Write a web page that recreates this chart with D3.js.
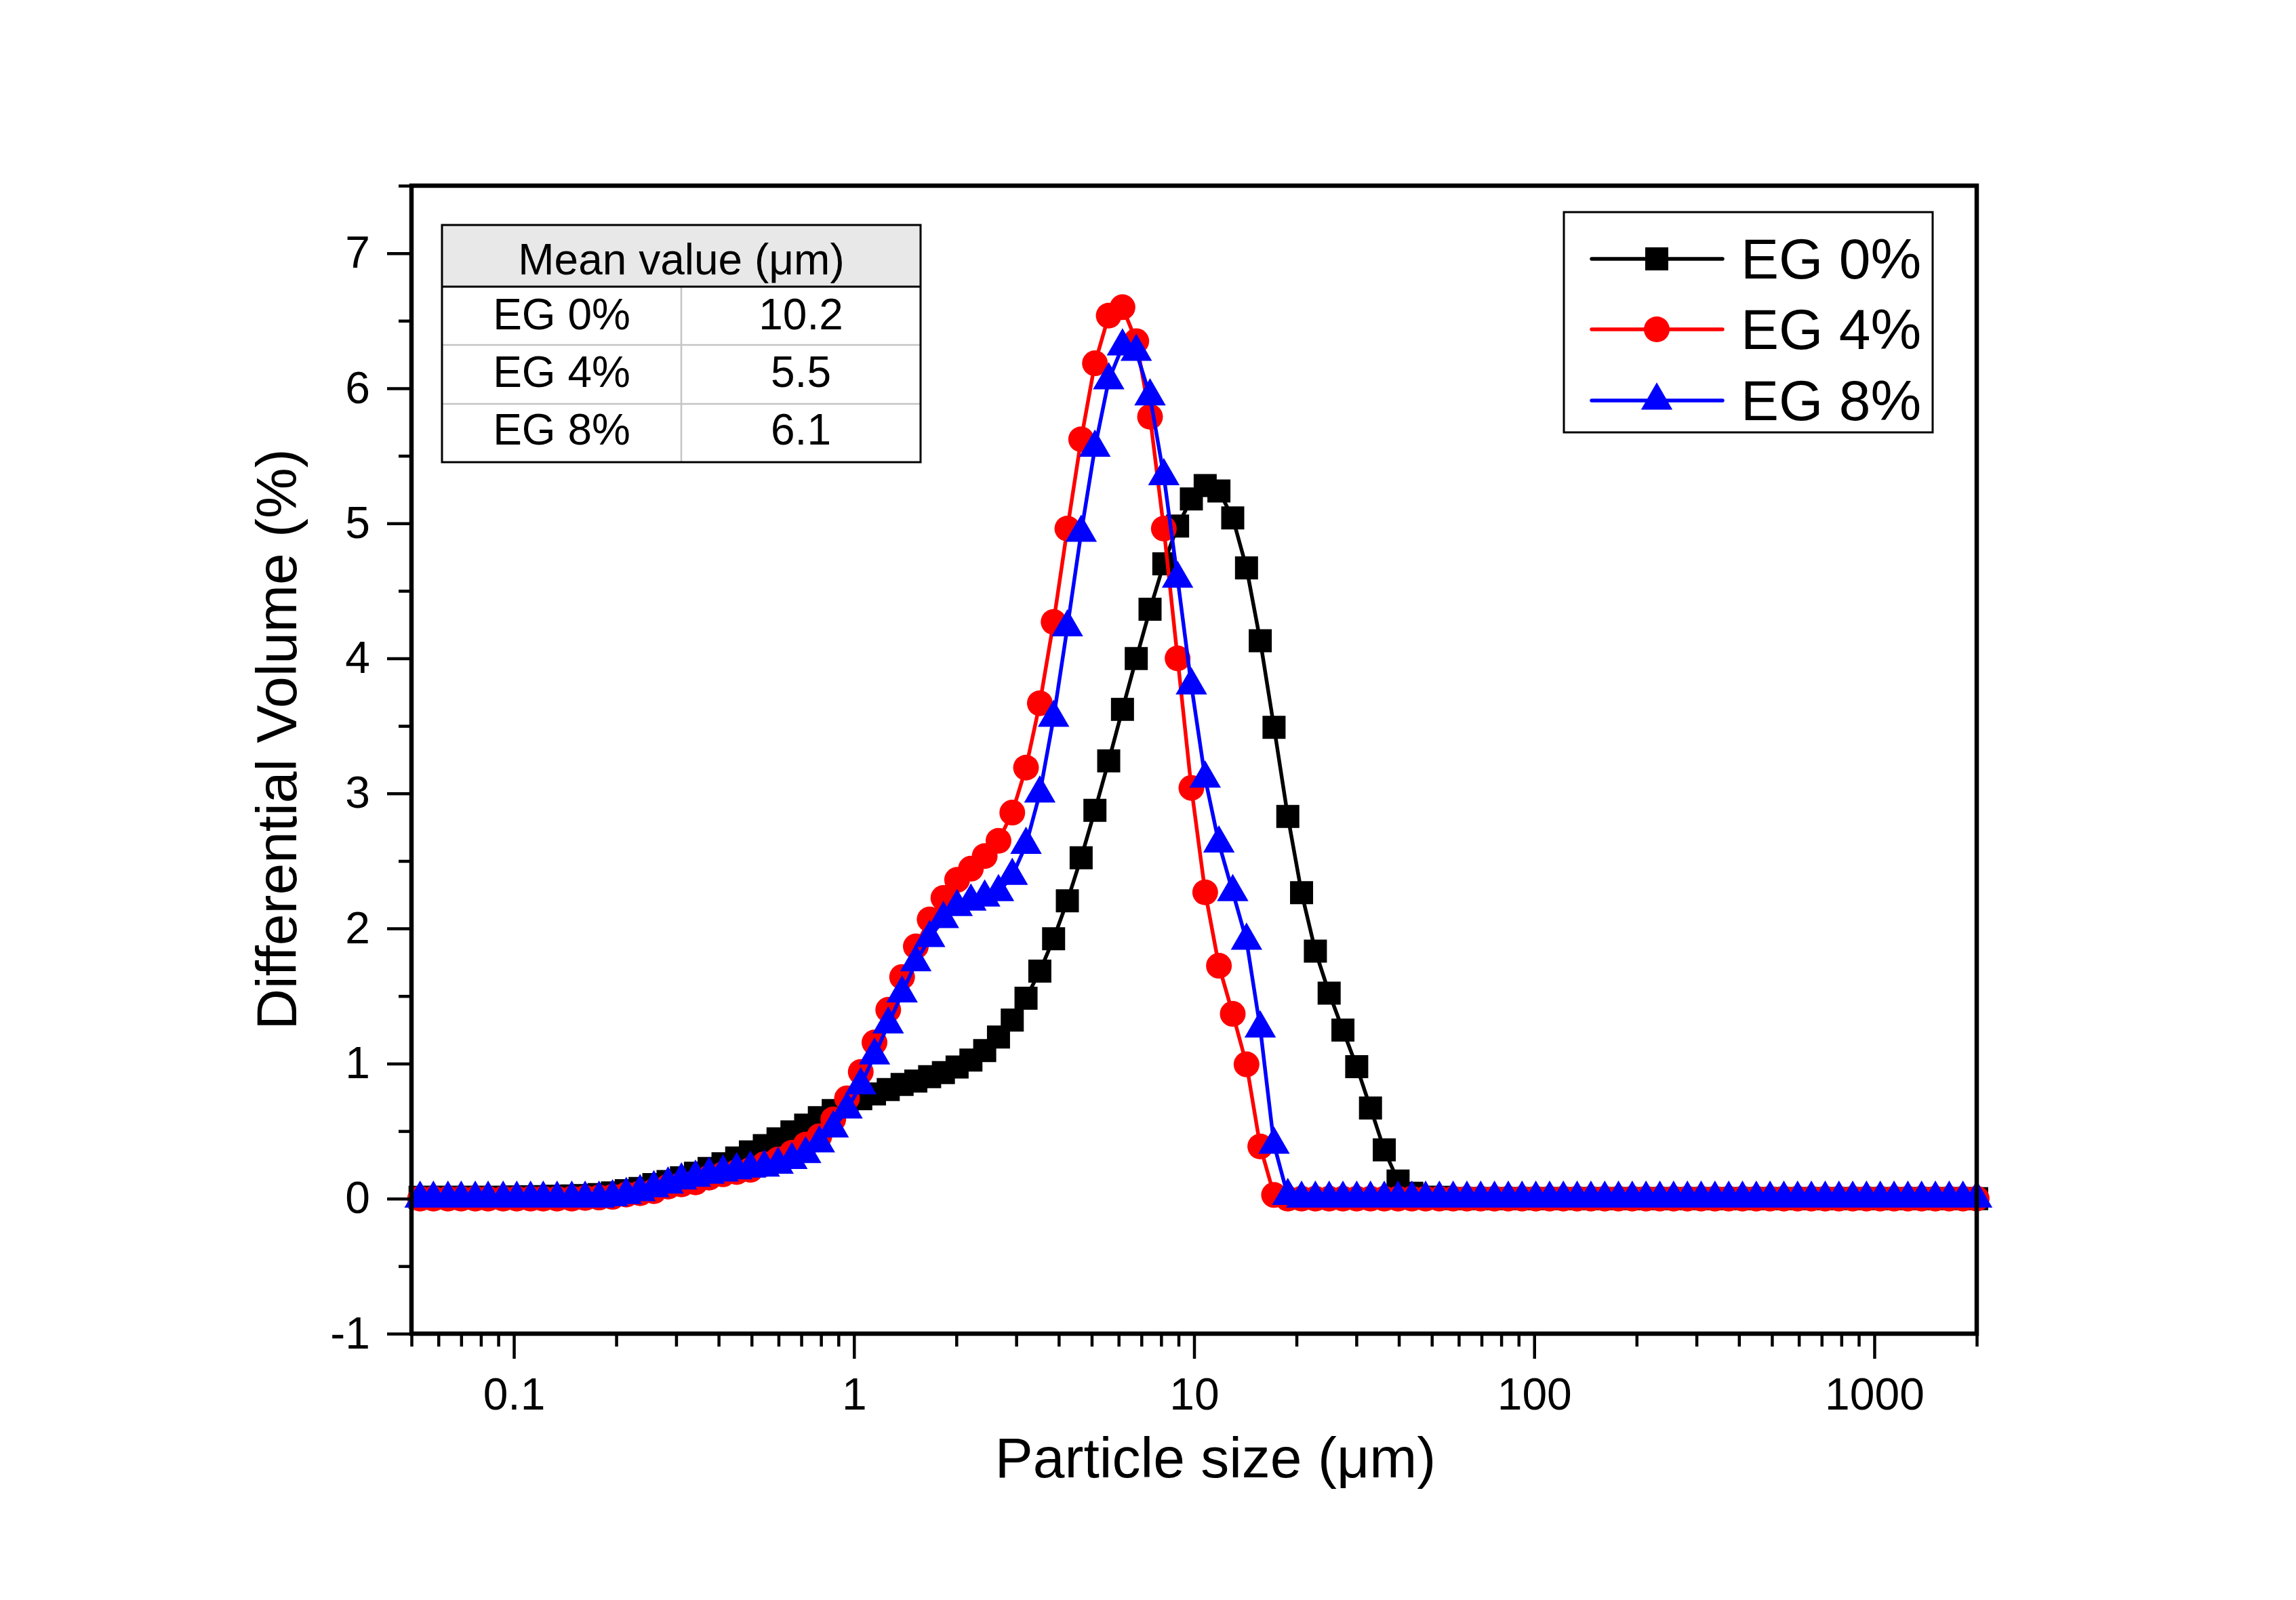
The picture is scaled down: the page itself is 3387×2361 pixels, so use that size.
<!DOCTYPE html>
<html><head><meta charset="utf-8">
<script src="https://cdn.jsdelivr.net/npm/d3@7"></script>
<style>
body{margin:0;background:#fff}
svg{display:block}
text{font-family:"Liberation Sans",Arial,Helvetica,sans-serif;fill:#000}
</style>
</head><body>
<script>
// ---------------- DATA ----------------
const sizes = [
 0.053,0.058,0.064,0.070,0.077,0.084,0.093,0.102,0.112,0.122,
 0.134,0.148,0.162,0.178,0.195,0.214,0.235,0.258,0.284,0.311,
 0.342,0.375,0.412,0.452,0.496,0.545,0.598,0.657,0.721,0.791,
 0.869,0.954,1.047,1.149,1.261,1.385,1.520,1.669,1.832,2.010,
 2.207,2.423,2.660,2.920,3.205,3.519,3.863,4.240,4.655,5.110,
 5.610,6.158,6.760,7.421,8.147,8.943,9.817,10.78,11.83,12.99,
 14.26,15.65,17.18,18.86,20.70,22.73,24.95,27.39,30.07,33.01,
 36.24,39.78,43.67,47.94,52.62,57.77,63.41,69.61,76.42,83.89,
 92.09,101.1,111.0,121.8,133.7,146.8,161.2,176.9,194.2,213.2,
 234.1,256.9,282.1,309.6,339.9,373.1,409.6,449.7,493.6,541.9,
 594.9,653.0,716.9,786.9,863.9,948.3,1041,1143,1255,1377,
 1512,1660,1822,2000
];
const eg0 = [
 0.01,0.01,0.01,0.01,0.01,0.01,0.01,0.012,0.013,0.015,
 0.017,0.02,0.022,0.03,0.042,0.059,0.075,0.104,0.126,0.154,
 0.188,0.223,0.258,0.301,0.346,0.393,0.443,0.494,0.544,0.599,
 0.652,0.70,0.74,0.775,0.808,0.845,0.870,0.903,0.933,0.975,
 1.026,1.096,1.196,1.322,1.484,1.684,1.924,2.205,2.524,2.875,
 3.241,3.623,3.999,4.364,4.70,4.98,5.18,5.28,5.24,5.04,
 4.67,4.13,3.49,2.83,2.265,1.833,1.521,1.248,0.977,0.671,
 0.361,0.13,0.04,0.01,0.01,0,0,0,0,0,
 0,0,0,0,0,0,0,0,0,0,
 0,0,0,0,0,0,0,0,0,0,
 0,0,0,0,0,0,0,0,0,0,
 0,0,0,0
];
const eg4 = [
 0,0,0,0,0,0,0,0,0,0,
 0,0,0.005,0.008,0.013,0.03,0.04,0.055,0.089,0.105,
 0.12,0.155,0.18,0.197,0.213,0.255,0.29,0.34,0.40,0.462,
 0.587,0.743,0.938,1.156,1.398,1.641,1.867,2.067,2.226,2.36,
 2.443,2.536,2.649,2.858,3.191,3.668,4.27,4.961,5.622,6.185,
 6.538,6.600,6.349,5.789,4.961,4.00,3.041,2.268,1.724,1.368,
 0.994,0.386,0.027,0,0,0,0,0,0,0,
 0,0,0,0,0,0,0,0,0,0,
 0,0,0,0,0,0,0,0,0,0,
 0,0,0,0,0,0,0,0,0,0,
 0,0,0,0,0,0,0,0,0,0,
 0,0,0,0
];
const eg8 = [
 0,0,0,0,0,0,0,0,0,0,
 0,0,0,0,0.01,0.027,0.048,0.077,0.105,0.135,
 0.155,0.177,0.194,0.21,0.222,0.23,0.252,0.286,0.33,0.41,
 0.52,0.66,0.84,1.06,1.29,1.52,1.75,1.93,2.07,2.16,
 2.20,2.23,2.27,2.39,2.62,3.00,3.56,4.23,4.93,5.56,
 6.06,6.31,6.27,5.94,5.35,4.59,3.80,3.11,2.63,2.27,
 1.91,1.26,0.40,0.02,0,0,0,0,0,0,
 0,0,0,0,0,0,0,0,0,0,
 0,0,0,0,0,0,0,0,0,0,
 0,0,0,0,0,0,0,0,0,0,
 0,0,0,0,0,0,0,0,0,0,
 0,0,0,0
];
const seriesNames = ["EG 0%", "EG 4%", "EG 8%"];
const seriesColors = ["#000000", "#ff0000", "#0000ff"];
const xMajorTicks = [0.1, 1, 10, 100, 1000];
const xTickLabels = ["0.1", "1", "10", "100", "1000"];
const yMajorTicks = [-1, 0, 1, 2, 3, 4, 5, 6, 7];
const yTickLabels = ["-1", "0", "1", "2", "3", "4", "5", "6", "7"];
const yMinorTicks = [-0.5, 0.5, 1.5, 2.5, 3.5, 4.5, 5.5, 6.5, 7.5];
const xTitle = "Particle size (\u03bcm)";
const yTitle = "Differential Volume (%)";
const tableHeader = "Mean value (\u03bcm)";
const tableRows = ["EG 0%", "EG 4%", "EG 8%"];
const tableValues = ["10.2", "5.5", "6.1"];

// ---------------- LAYOUT ----------------
const W = 3387, H = 2361;
const L = 607, R = 2916, T = 274, B = 1968;

const svg = d3.select("body").append("svg").attr("width", W).attr("height", H);
svg.append("rect").attr("width", W).attr("height", H).attr("fill", "#fff");

const x = d3.scaleLog().domain([0.05, 2000]).range([L, R]);
const y = d3.scaleLinear().domain([-1, 7.5]).range([B, T]);

// minor x ticks (2..9 of each decade within domain)
const xMinorTicks = [];
[0.01, 0.1, 1, 10, 100, 1000].forEach(d => {
  for (let m = 2; m <= 9; m++) {
    const v = +(d * m).toPrecision(3);
    if (v >= 0.05 - 1e-9 && v <= 2000 + 1e-9) xMinorTicks.push(v);
  }
});

// ---------------- SERIES ----------------
const series = [eg0, eg4, eg8].map((vals, i) => ({
  name: seriesNames[i], color: seriesColors[i],
  pts: sizes.map((s, j) => ({ s, v: vals[j] }))
}));
const symbolTypes = [d3.symbolSquare, d3.symbolCircle, d3.symbolTriangle];
const symbolSizes = [34 * 34, Math.PI * 19 * 19, 3 * Math.sqrt(3) * 13.4 * 13.4];

const line = d3.line().x(d => x(d.s)).y(d => y(d.v));
const gData = svg.append("g");
series.forEach((sr, i) => {
  gData.append("path").datum(sr.pts)
    .attr("d", line).attr("fill", "none")
    .attr("stroke", sr.color).attr("stroke-width", 5.5)
    .attr("stroke-linejoin", "round");
  const sym = d3.symbol().type(symbolTypes[i]).size(symbolSizes[i]);
  gData.append("g").selectAll("path").data(sr.pts).join("path")
    .attr("d", sym())
    .attr("transform", d => `translate(${x(d.s)},${y(d.v)})`)
    .attr("fill", sr.color);
});

// ---------------- AXES ----------------
const xAxisMajor = d3.axisBottom(x).tickValues(xMajorTicks)
  .tickFormat((d, i) => xTickLabels[i]).tickSize(37).tickSizeOuter(0).tickPadding(28);
const xAxisMinor = d3.axisBottom(x).tickValues(xMinorTicks)
  .tickFormat("").tickSize(19).tickSizeOuter(0);
const yAxisMajor = d3.axisLeft(y).tickValues(yMajorTicks)
  .tickFormat((d, i) => yTickLabels[i]).tickSize(36).tickSizeOuter(0).tickPadding(25);
const yAxisMinor = d3.axisLeft(y).tickValues(yMinorTicks)
  .tickFormat("").tickSize(19).tickSizeOuter(0);

function styleAxis(g) {
  g.select(".domain").remove();
  g.selectAll(".tick line").attr("stroke", "#000").attr("stroke-width", 4.5);
  g.selectAll(".tick text").attr("font-size", 66)
    .attr("font-family", '"Liberation Sans",Arial,sans-serif').attr("fill", "#000");
}
svg.append("g").attr("transform", `translate(0,${B})`).call(xAxisMinor).call(styleAxis);
svg.append("g").attr("transform", `translate(0,${B})`).call(xAxisMajor).call(styleAxis);
svg.append("g").attr("transform", `translate(${L},0)`).call(yAxisMinor).call(styleAxis);
svg.append("g").attr("transform", `translate(${L},0)`).call(yAxisMajor).call(styleAxis);

// frame
svg.append("rect").attr("x", L).attr("y", T).attr("width", R - L).attr("height", B - T)
  .attr("fill", "none").attr("stroke", "#000").attr("stroke-width", 6.5);

// titles
svg.append("text").attr("x", 1793).attr("y", 2180).attr("text-anchor", "middle")
  .attr("font-size", 84).text(xTitle);
svg.append("text").attr("transform", "translate(437,1091) rotate(-90)")
  .attr("text-anchor", "middle").attr("font-size", 84).text(yTitle);

// ---------------- LEGEND ----------------
const lg = svg.append("g");
lg.append("rect").attr("x", 2307).attr("y", 313).attr("width", 544).attr("height", 325)
  .attr("fill", "#fff").attr("stroke", "#000").attr("stroke-width", 3);
const legendRowsY = [382, 486, 591];
series.forEach((sr, i) => {
  const yy = legendRowsY[i];
  lg.append("line").attr("x1", 2348).attr("x2", 2541).attr("y1", yy).attr("y2", yy)
    .attr("stroke", sr.color).attr("stroke-width", 5.5).attr("stroke-linecap", "round");
  lg.append("path").attr("d", d3.symbol().type(symbolTypes[i]).size(symbolSizes[i])())
    .attr("transform", `translate(2444,${yy})`).attr("fill", sr.color);
  lg.append("text").attr("x", 2568).attr("y", yy + 29).attr("font-size", 84).text(sr.name);
});

// ---------------- TABLE ----------------
const tb = svg.append("g");
const tL = 652, tR = 1358, tT = 332, tHead = 423, tB = 682, tMid = 1005;
const rowLines = [509, 596];
tb.append("rect").attr("x", tL).attr("y", tT).attr("width", tR - tL).attr("height", tHead - tT)
  .attr("fill", "#e8e8e8");
tb.append("rect").attr("x", tL).attr("y", tHead).attr("width", tR - tL).attr("height", tB - tHead)
  .attr("fill", "#fff");
rowLines.forEach(ly => tb.append("line").attr("x1", tL).attr("x2", tR).attr("y1", ly).attr("y2", ly)
  .attr("stroke", "#c4c4c4").attr("stroke-width", 2.5));
tb.append("line").attr("x1", tMid).attr("x2", tMid).attr("y1", tHead).attr("y2", tB)
  .attr("stroke", "#c4c4c4").attr("stroke-width", 2.5);
tb.append("line").attr("x1", tL).attr("x2", tR).attr("y1", tHead).attr("y2", tHead)
  .attr("stroke", "#000").attr("stroke-width", 3);
tb.append("rect").attr("x", tL).attr("y", tT).attr("width", tR - tL).attr("height", tB - tT)
  .attr("fill", "none").attr("stroke", "#000").attr("stroke-width", 3);
tb.append("text").attr("x", (tL + tR) / 2).attr("y", 405).attr("text-anchor", "middle")
  .attr("font-size", 64).text(tableHeader);
const rowBase = [486, 571, 656];
tableRows.forEach((r, i) => {
  tb.append("text").attr("x", (tL + tMid) / 2).attr("y", rowBase[i]).attr("text-anchor", "middle")
    .attr("font-size", 64).text(r);
  tb.append("text").attr("x", (tMid + tR) / 2).attr("y", rowBase[i]).attr("text-anchor", "middle")
    .attr("font-size", 64).text(tableValues[i]);
});
</script>
</body></html>
